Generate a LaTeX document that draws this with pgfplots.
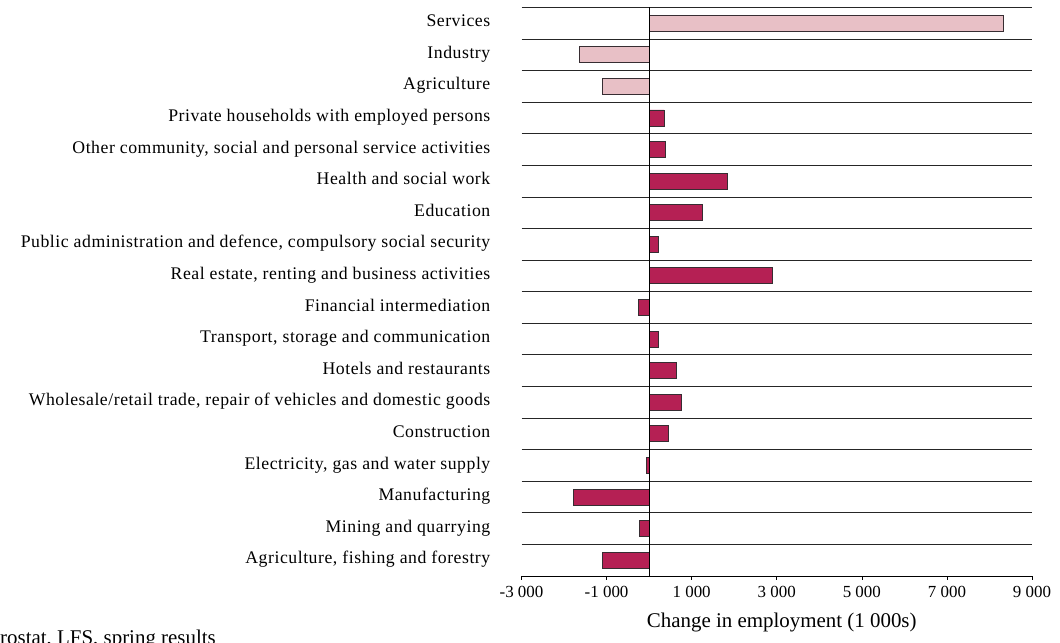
\documentclass[border=0pt]{standalone}
\usepackage{pgfplots}
\pgfplotsset{compat=1.18}
\usepackage{fontspec}
\setmainfont{Liberation Serif}
\newfontfamily\catfont[LetterSpace=3]{Liberation Serif}
\definecolor{darkbar}{RGB}{181,32,84}
\definecolor{lightbar}{RGB}{232,192,198}
\definecolor{edge}{RGB}{55,45,50}
\begin{document}
\begin{tikzpicture}[x=1bp,y=1bp]
\useasboundingbox (0,0) rectangle (1060,643);
\clip (0,0) rectangle (1060,643);
\begin{axis}[
  at={(521.5bp,67bp)}, anchor=south west,
  scale only axis, width=510.5bp, height=568.7bp,
  xmin=-3000, xmax=9000, ymin=-0.5, ymax=17.5,
  axis x line*=bottom, axis y line*=left,
  y axis line style={draw=none},
  x axis line style={black, line width=0.8bp},
  xtick={-3000,-1000,1000,3000,5000,7000,9000},
  xticklabels={-3 000,-1 000,1 000,3 000,5 000,7 000,9 000},
  tick align=outside, major tick length=4bp,
  x tick style={black, line width=0.6bp},
  ytick={0,...,17},
  yticklabels={
    {Agriculture, fishing and forestry},
    {Mining and quarrying},
    {Manufacturing},
    {Electricity, gas and water supply},
    {Construction},
    {Wholesale/retail trade, repair of vehicles and domestic goods},
    {Hotels and restaurants},
    {Transport, storage and communication},
    {Financial intermediation},
    {Real estate, renting and business activities},
    {Public administration and defence, compulsory social security},
    {Education},
    {Health and social work},
    {Other community, social and personal service activities},
    {Private households with employed persons},
    {Agriculture},
    {Industry},
    {Services}},
  y tick style={draw=none},
  minor ytick={0.5,1.5,...,17.5},
  yminorgrids, minor grid style={black!85, line width=0.7bp},
  minor tick length=0pt,
  xbar, bar width=16bp, bar shift=0pt,
  xticklabel style={font=\fontsize{17}{20}\selectfont, anchor=base, inner sep=0pt, yshift=-18bp},
  yticklabel style={font=\catfont\fontsize{17.8}{20}\selectfont, anchor=base east, inner sep=0pt, yshift=-3.6bp, xshift=-27bp},
  xlabel={Change in employment (1 000s)},
  xlabel style={font=\fontsize{21}{24}\selectfont, at={(axis description cs:0.5,0)}, anchor=base, inner sep=0pt, yshift=-52bp, xshift=5bp},
]
\addplot[fill=darkbar, draw=edge, line width=0.7bp] coordinates {
  (-1097,0) (-228,1) (-1780,2) (-60,3) (440,4) (760,5) (650,6) (227,7)
  (-258,8) (2906,9) (227,10) (1246,11) (1847,12) (379,13) (353,14)};
\addplot[fill=lightbar, draw=edge, line width=0.7bp] coordinates {
  (-1097,15) (-1638,16) (8324,17)};
\draw[black, line width=0.8bp] (axis cs:0,-0.5) -- (axis cs:0,17.5);
\end{axis}
\node[anchor=base west, inner sep=0pt, font=\fontsize{21}{24}\selectfont] at (0,-2) {rostat, LFS, spring results};
\end{tikzpicture}
\end{document}
